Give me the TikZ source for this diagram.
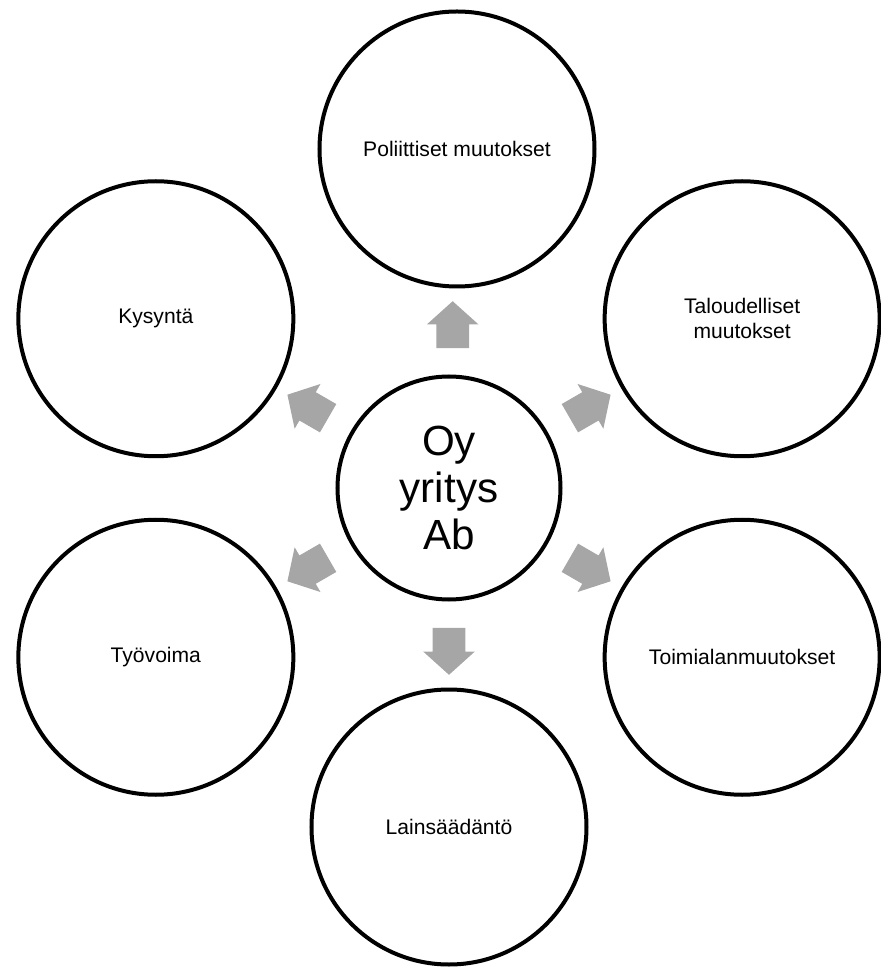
\documentclass[tikz,border=0pt]{standalone}
\usepackage{fontspec}
\setmainfont{Liberation Sans}
\usetikzlibrary{shapes.arrows, positioning, calc}
\definecolor{arrowgray}{HTML}{A6A6A6}
\tikzset{
  ringnode/.style={
    circle, draw=black, line width=0.08cm, fill=white,
    minimum size=5.5cm, inner sep=2pt,
    text centered, align=center, font=\fontsize{12}{14}\selectfont
  },
  corenode/.style={
    circle, draw=black, line width=0.08cm, fill=white,
    minimum size=4.46cm, inner sep=0pt,
    text centered, align=center, font=\fontsize{24}{27}\selectfont
  },
  flowarrow/.style={
    single arrow, fill=arrowgray, draw=none,
    minimum height=0.94cm, minimum width=1.02cm,
    single arrow head extend=0.19cm, single arrow tip angle=96,
    inner xsep=0pt, inner ysep=0.32cm, rotate=#1
  },
}
\begin{document}
\begin{tikzpicture}
  \useasboundingbox (-8.98,-9.58) rectangle (8.62,9.76);
  \node[corenode](c) at (0,0){Oy\\yritys\\Ab};
  \node[ringnode](pol) at (0.16,6.78){Poliittiset muutokset};
  \node[ringnode](tal) at (30:6.77){Taloudelliset\\muutokset};
  \node[ringnode](toi) at (-30:6.77){Toimialanmuutokset};
  \node[ringnode](lai) at (0,-6.78){Lainsäädäntö};
  \node[ringnode](tyo) at (-150:6.77){Työvoima};
  \node[ringnode](kys) at (150:6.77){Kysyntä};
  \node[flowarrow=90](apol) at ($(c)!0.46!(pol)$){};
  \node[flowarrow=30](atal) at ($(c)!0.46!(tal)$){};
  \node[flowarrow=-30](atoi) at ($(c)!0.46!(toi)$){};
  \node[flowarrow=-90](alai) at ($(c)!0.46!(lai)$){};
  \node[flowarrow=-150](atyo) at ($(c)!0.46!(tyo)$){};
  \node[flowarrow=150](akys) at ($(c)!0.46!(kys)$){};
\end{tikzpicture}
\end{document}
